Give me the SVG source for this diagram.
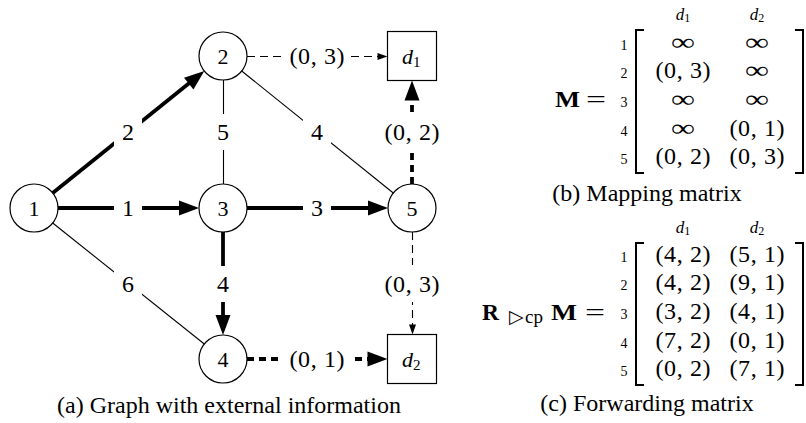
<svg xmlns="http://www.w3.org/2000/svg" width="806" height="423" viewBox="0 0 806 423">
<style>
text{font-family:"Liberation Serif","Times New Roman",serif;fill:#000}
.node circle,.node rect{fill:#fff;stroke:#000;stroke-width:1.2}
.nl{font-size:22px;text-anchor:middle}
.el{font-size:24px;text-anchor:middle}
.bg{fill:#fff;stroke:none}
.thick{stroke:#000;stroke-width:3.8;fill:none}
.thin{stroke:#000;stroke-width:1.1;fill:none}
.thickd{stroke:#000;stroke-width:3.8;fill:none;stroke-dasharray:7 5}
.thind{stroke:#000;stroke-width:1.1;fill:none;stroke-dasharray:8 5}
.it{font-style:italic}
.sub{font-size:15px;font-style:normal}
.rl{font-size:14px;text-anchor:middle}
.me{font-size:24px;text-anchor:middle}
.hd{font-size:17px;text-anchor:middle}
.hs{font-size:12px}
.br{stroke:#000;stroke-width:2;fill:none}
.bold{font-weight:bold;font-size:24px}
.cap{font-size:24px;text-anchor:middle}
</style>
<defs>
<marker id="ah" markerUnits="userSpaceOnUse" markerWidth="20" markerHeight="15" refX="6" refY="7.5" orient="auto" overflow="visible">
<path d="M0,0 L20,7.5 L0,15 z" fill="#000"/>
</marker>
<marker id="as" markerUnits="userSpaceOnUse" markerWidth="10" markerHeight="7" refX="8" refY="3.5" orient="auto" overflow="visible">
<path d="M0,0 L10,3.5 L0,7 z" fill="#000"/>
</marker>
</defs>

<g id="connectors">
<line class="thick" x1="52.7" y1="193" x2="193.4" y2="79.8" marker-end="url(#ah)"/>
<line class="thick" x1="58" y1="208" x2="185" y2="208" marker-end="url(#ah)"/>
<line class="thick" x1="247" y1="208" x2="374" y2="208" marker-end="url(#ah)"/>
<line class="thick" x1="223" y1="232" x2="223" y2="321" marker-end="url(#ah)"/>
<line class="thin" x1="223.5" y1="80" x2="223.5" y2="184"/>
<line class="thin" x1="241.7" y1="71" x2="393.3" y2="193"/>
<line class="thin" x1="52.7" y1="223" x2="204.3" y2="344"/>
<line class="thind" x1="247" y1="56.5" x2="385.5" y2="56.5" marker-end="url(#as)"/>
<line class="thickd" x1="412" y1="184" x2="412" y2="94.5" marker-end="url(#ah)"/>
<line class="thind" x1="412.5" y1="232" x2="412.5" y2="332.5" marker-end="url(#as)"/>
<line class="thickd" x1="247" y1="359" x2="373.5" y2="359" marker-end="url(#ah)"/>
</g>

<g id="edge-labels">
<rect class="bg" x="114" y="114" width="28" height="36"/><text class="el" x="128" y="140">2</text>
<rect class="bg" x="114" y="190" width="28" height="36"/><text class="el" x="128" y="216">1</text>
<rect class="bg" x="209" y="114" width="28" height="36"/><text class="el" x="223" y="140">5</text>
<rect class="bg" x="303" y="114" width="28" height="36"/><text class="el" x="317" y="140">4</text>
<rect class="bg" x="303" y="190" width="28" height="36"/><text class="el" x="317" y="216">3</text>
<rect class="bg" x="114" y="266" width="28" height="36"/><text class="el" x="128" y="292">6</text>
<rect class="bg" x="209" y="266" width="28" height="36"/><text class="el" x="223" y="292">4</text>
<rect class="bg" x="283" y="40" width="68" height="32"/><text class="el" x="317" y="64" textLength="55">(0, 3)</text>
<rect class="bg" x="381" y="112" width="62" height="40"/><text class="el" x="412" y="140" textLength="55">(0, 2)</text>
<rect class="bg" x="381" y="265" width="62" height="37"/><text class="el" x="412" y="292" textLength="55">(0, 3)</text>
<rect class="bg" x="283" y="342" width="68" height="34"/><text class="el" x="317" y="367" textLength="55">(0, 1)</text>
</g>

<g id="node-1" class="node"><circle cx="34" cy="208" r="24"/><text class="nl" x="34" y="216">1</text></g>
<g id="node-2" class="node"><circle cx="223" cy="56" r="24"/><text class="nl" x="223" y="64">2</text></g>
<g id="node-3" class="node"><circle cx="223" cy="208" r="24"/><text class="nl" x="223" y="216">3</text></g>
<g id="node-4" class="node"><circle cx="223" cy="359" r="24"/><text class="nl" x="223" y="367">4</text></g>
<g id="node-5" class="node"><circle cx="412" cy="208" r="24"/><text class="nl" x="412" y="216">5</text></g>
<g id="node-d1" class="node"><rect x="387.5" y="31.5" width="49" height="49"/><text x="402" y="64" font-size="22" class="it">d<tspan class="sub" dy="3">1</tspan></text></g>
<g id="node-d2" class="node"><rect x="387.5" y="334.5" width="49" height="49"/><text x="402" y="367" font-size="22" class="it">d<tspan class="sub" dy="3">2</tspan></text></g>

<text class="cap" x="229" y="413">(a) Graph with external information</text>

<g id="matrix-b">
<text class="bold" x="555" y="107" textLength="25" lengthAdjust="spacingAndGlyphs">M</text>
<text x="586" y="107" font-size="24" textLength="20" lengthAdjust="spacingAndGlyphs">=</text>
<text class="hd it" x="683" y="20">d<tspan class="hs" font-style="normal" dy="2">1</tspan></text>
<text class="hd it" x="757" y="20">d<tspan class="hs" font-style="normal" dy="2">2</tspan></text>
<text class="rl" x="624" y="49.6">1</text>
<text class="rl" x="624" y="78.3">2</text>
<text class="rl" x="624" y="107">3</text>
<text class="rl" x="624" y="135.7">4</text>
<text class="rl" x="624" y="164.4">5</text>
<path class="br" d="M644,30 H636 V173 H644"/>
<path class="br" d="M795,30 H803 V173 H795"/>
<text class="me" x="683" y="49.6" textLength="24" lengthAdjust="spacingAndGlyphs">∞</text>
<text class="me" x="757" y="49.6" textLength="24" lengthAdjust="spacingAndGlyphs">∞</text>
<text class="me" x="683" y="78.3" textLength="55">(0, 3)</text>
<text class="me" x="757" y="78.3" textLength="24" lengthAdjust="spacingAndGlyphs">∞</text>
<text class="me" x="683" y="107" textLength="24" lengthAdjust="spacingAndGlyphs">∞</text>
<text class="me" x="757" y="107" textLength="24" lengthAdjust="spacingAndGlyphs">∞</text>
<text class="me" x="683" y="135.7" textLength="24" lengthAdjust="spacingAndGlyphs">∞</text>
<text class="me" x="757" y="135.7" textLength="55">(0, 1)</text>
<text class="me" x="683" y="164.4" textLength="55">(0, 2)</text>
<text class="me" x="757" y="164.4" textLength="55">(0, 3)</text>
<text class="cap" x="647" y="201">(b) Mapping matrix</text>
</g>

<g id="matrix-c">
<text class="bold" x="482" y="320" textLength="17" lengthAdjust="spacingAndGlyphs">R</text>
<text x="509" y="323" font-family="DejaVu Sans, sans-serif" font-size="19">▷</text>
<text x="525" y="323" font-size="19">cp</text>
<text class="bold" x="551" y="320" textLength="26" lengthAdjust="spacingAndGlyphs">M</text>
<text x="585" y="320" font-size="24" textLength="20" lengthAdjust="spacingAndGlyphs">=</text>
<text class="hd it" x="683" y="233">d<tspan class="hs" font-style="normal" dy="2">1</tspan></text>
<text class="hd it" x="757" y="233">d<tspan class="hs" font-style="normal" dy="2">2</tspan></text>
<text class="rl" x="624" y="261.6">1</text>
<text class="rl" x="624" y="290.3">2</text>
<text class="rl" x="624" y="319">3</text>
<text class="rl" x="624" y="347.7">4</text>
<text class="rl" x="624" y="376.4">5</text>
<path class="br" d="M644,243 H636 V385 H644"/>
<path class="br" d="M795,243 H803 V385 H795"/>
<text class="me" x="683" y="261.6" textLength="55">(4, 2)</text>
<text class="me" x="757" y="261.6" textLength="55">(5, 1)</text>
<text class="me" x="683" y="290.3" textLength="55">(4, 2)</text>
<text class="me" x="757" y="290.3" textLength="55">(9, 1)</text>
<text class="me" x="683" y="319" textLength="55">(3, 2)</text>
<text class="me" x="757" y="319" textLength="55">(4, 1)</text>
<text class="me" x="683" y="347.7" textLength="55">(7, 2)</text>
<text class="me" x="757" y="347.7" textLength="55">(0, 1)</text>
<text class="me" x="683" y="376.4" textLength="55">(0, 2)</text>
<text class="me" x="757" y="376.4" textLength="55">(7, 1)</text>
<text class="cap" x="647" y="411">(c) Forwarding matrix</text>
</g>
</svg>
